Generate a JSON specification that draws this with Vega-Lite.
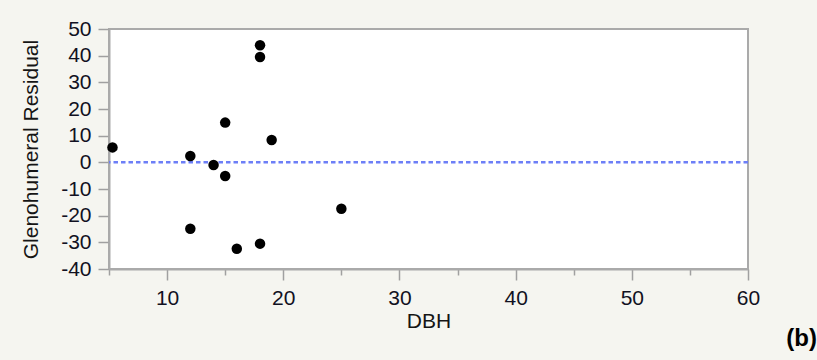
{
  "$schema": "https://vega.github.io/schema/vega-lite/v6.json",
  "autosize": {"type": "none"},
  "width": 639,
  "height": 240,
  "padding": {"left": 109, "top": 29, "right": 69, "bottom": 91},
  "background": "#f5f5f0",
  "title": {
    "text": "(b)",
    "orient": "bottom",
    "anchor": "end",
    "frame": "group",
    "font": "Liberation Sans",
    "fontSize": 24,
    "fontWeight": "bold",
    "color": "#000000",
    "dx": 69,
    "offset": -4
  },
  "config": {
    "view": {"stroke": "#aaaaaa", "strokeWidth": 2, "fill": "#ffffff"},
    "axis": {
      "labelFont": "Liberation Sans",
      "titleFont": "Liberation Sans",
      "labelFontSize": 21,
      "titleFontSize": 21,
      "labelColor": "#111122",
      "titleColor": "#151515",
      "titleFontWeight": "normal",
      "grid": false,
      "domainColor": "#aaaaaa",
      "domainWidth": 2,
      "tickColor": "#a0a0a0",
      "tickWidth": 1.5,
      "labelOverlap": false
    }
  },
  "data": {
    "values": [
      {"DBH": 5.3, "Residual": 5.6},
      {"DBH": 12, "Residual": 2.4},
      {"DBH": 14, "Residual": -1.0},
      {"DBH": 15, "Residual": 14.9},
      {"DBH": 15, "Residual": -5.1},
      {"DBH": 18, "Residual": 43.9},
      {"DBH": 18, "Residual": 39.5},
      {"DBH": 19, "Residual": 8.4},
      {"DBH": 25, "Residual": -17.4},
      {"DBH": 12, "Residual": -24.9},
      {"DBH": 16, "Residual": -32.4},
      {"DBH": 18, "Residual": -30.5}
    ]
  },
  "layer": [
    {
      "data": {"values": [{"y": 0}]},
      "mark": {"type": "rule", "color": "#6d7ff7", "strokeWidth": 2.5, "strokeDash": [4.5, 3]},
      "encoding": {
        "y": {
          "field": "y",
          "type": "quantitative",
          "scale": {"domain": [-40, 50], "nice": false, "zero": false},
          "axis": {
            "title": "Glenohumeral Residual",
            "values": [-40, -30, -20, -10, 0, 10, 20, 30, 40, 50],
            "labelExpr": "toString(datum.value)",
            "tickSize": 11,
            "labelPadding": 7,
            "titlePadding": 19
          }
        }
      }
    },
    {
      "mark": {"type": "point", "filled": true, "color": "#000000", "opacity": 1, "size": 110, "shape": "circle"},
      "encoding": {
        "x": {
          "field": "DBH",
          "type": "quantitative",
          "scale": {"domain": [5, 60], "nice": false, "zero": false},
          "axis": {
            "title": "DBH",
            "values": [5, 10, 15, 20, 25, 30, 35, 40, 45, 50, 55, 60],
            "labelExpr": "datum.value % 10 === 0 ? datum.label : ''",
            "tickSize": {"condition": {"test": "datum.value % 10 !== 0", "value": 6}, "value": 11},
            "labelPadding": 7,
            "labelFlush": false,
            "titlePadding": 2
          }
        },
        "y": {
          "field": "Residual",
          "type": "quantitative",
          "scale": {"domain": [-40, 50], "nice": false, "zero": false},
          "axis": {
            "title": "Glenohumeral Residual",
            "values": [-40, -30, -20, -10, 0, 10, 20, 30, 40, 50],
            "labelExpr": "toString(datum.value)",
            "tickSize": 11,
            "labelPadding": 7,
            "titlePadding": 19
          }
        }
      }
    }
  ]
}
